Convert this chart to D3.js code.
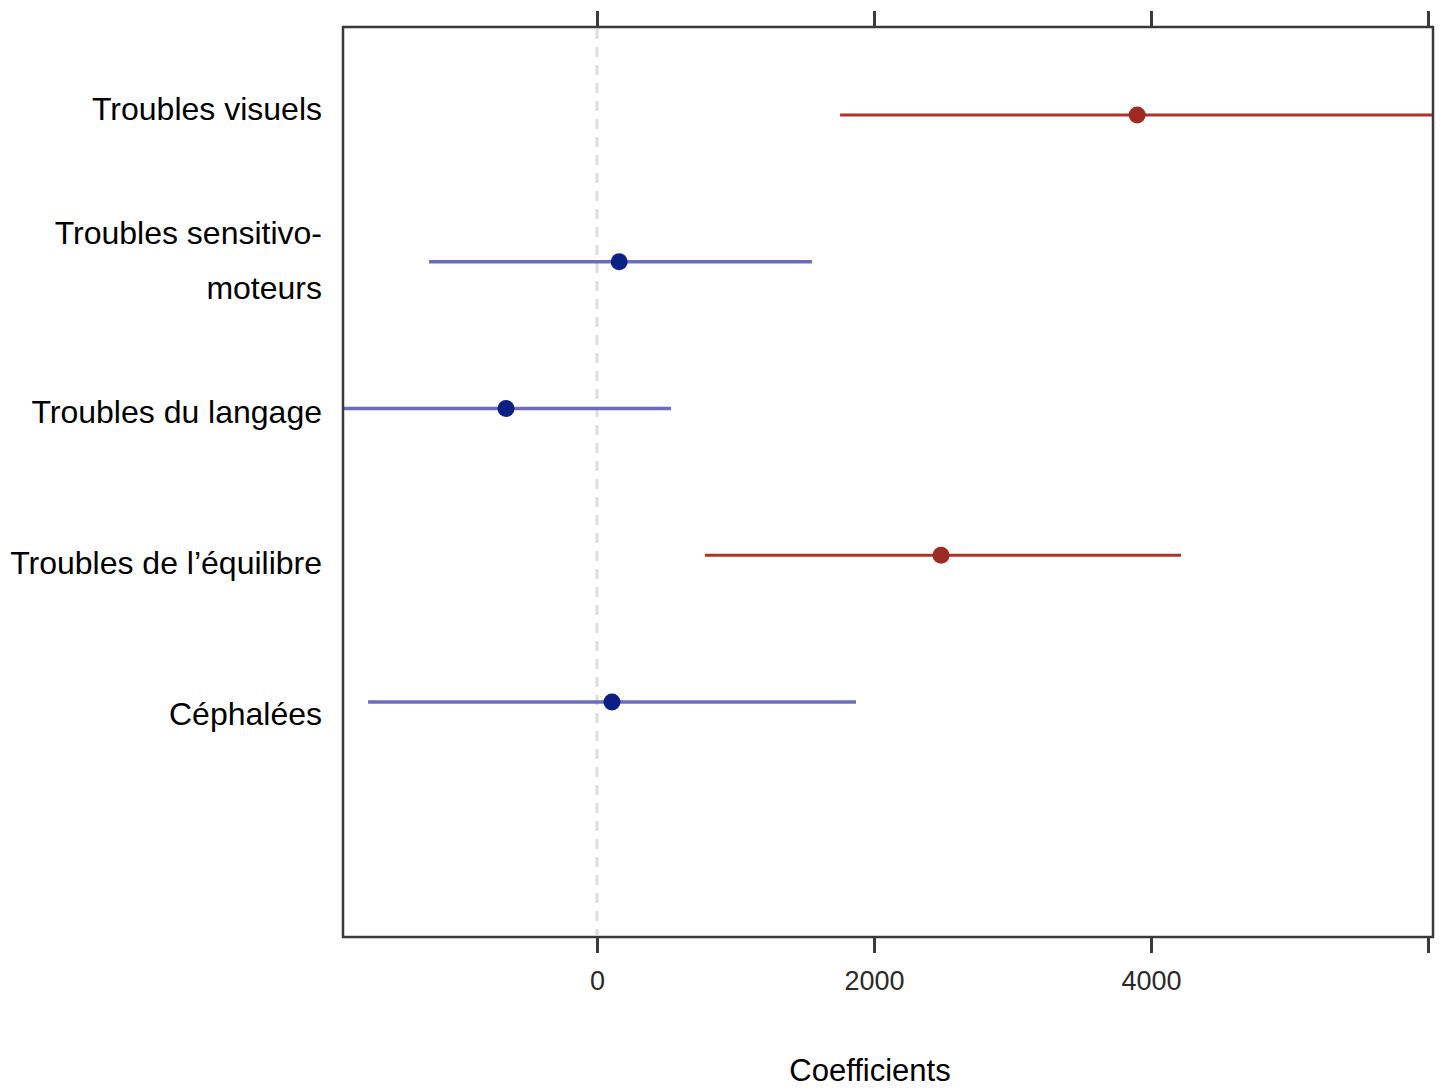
<!DOCTYPE html>
<html>
<head>
<meta charset="utf-8">
<script src="https://cdn.jsdelivr.net/npm/d3@7"></script>
<style>
  html, body { margin: 0; padding: 0; background: #fff; }
  svg { display: block; }
  text { font-family: "Liberation Sans", Arial, Helvetica, sans-serif; }
</style>
</head>
<body>
<svg id="chart" width="1442" height="1088"></svg>
<script>
// Symptoms, in plotting order from top to bottom
const categories = [
  "Troubles visuels",
  "Troubles sensitivo-moteurs",
  "Troubles du langage",
  "Troubles de l\u2019\u00e9quilibre",
  "C\u00e9phal\u00e9es"
];
// Label lines (wrapped names)
const labelLines = [
  ["Troubles visuels"],
  ["Troubles sensitivo-", "moteurs"],
  ["Troubles du langage"],
  ["Troubles de l\u2019\u00e9quilibre"],
  ["C\u00e9phal\u00e9es"]
];
// Point estimates and confidence bounds
const estimates = [3900, 160, -657, 2484, 108];
const lowerCI   = [1755, -1213, -1950, 780, -1653];
const upperCI   = [6150, 1552, 534, 4217, 1870];
const significant = [true, false, false, true, false];
const tickValues = [0, 2000, 4000, 6000];
const labelledTicks = [0, 2000, 4000];
const axisTitle = "Coefficients";

const svg = d3.select("#chart");
const frame = { left: 343, right: 1433, top: 27, bottom: 937 };

const x = d3.scaleLinear().domain([-1834, 6036]).range([frame.left, frame.right]);
const y = d3.scaleLinear().domain([0, 4]).range([115, 702]);
const yLabel = d3.scaleLinear().domain([0, 4]).range([109, 714]);

const colors = {
  sig:    { line: "#b0302a", dot: "#9e2a22", width: 2.8 },
  nonsig: { line: "#6b6bc0", dot: "#0c1f84", width: 3.6 }
};

svg.append("defs").append("clipPath").attr("id", "plotClip")
  .append("rect")
  .attr("x", frame.left).attr("y", frame.top)
  .attr("width", frame.right - frame.left)
  .attr("height", frame.bottom - frame.top);

// zero reference line
svg.append("line")
  .attr("x1", x(0)).attr("x2", x(0))
  .attr("y1", frame.top + 2).attr("y2", frame.bottom - 2)
  .attr("stroke", "#dcdcdc").attr("stroke-width", 3)
  .attr("stroke-dasharray", "10,8");

// confidence intervals
const plot = svg.append("g").attr("clip-path", "url(#plotClip)");
plot.selectAll("line.ci").data(categories).join("line")
  .attr("class", "ci")
  .attr("x1", (d, i) => x(lowerCI[i]))
  .attr("x2", (d, i) => x(upperCI[i]))
  .attr("y1", (d, i) => y(i)).attr("y2", (d, i) => y(i))
  .attr("stroke", (d, i) => significant[i] ? colors.sig.line : colors.nonsig.line)
  .attr("stroke-width", (d, i) => significant[i] ? colors.sig.width : colors.nonsig.width);

plot.selectAll("circle.est").data(categories).join("circle")
  .attr("class", "est")
  .attr("cx", (d, i) => x(estimates[i]))
  .attr("cy", (d, i) => y(i))
  .attr("r", 8.5)
  .attr("fill", (d, i) => significant[i] ? colors.sig.dot : colors.nonsig.dot);

// frame
svg.append("rect")
  .attr("x", frame.left).attr("y", frame.top)
  .attr("width", frame.right - frame.left)
  .attr("height", frame.bottom - frame.top)
  .attr("fill", "none").attr("stroke", "#3a3a3a").attr("stroke-width", 2.5);

// bottom axis
const bottomAxis = d3.axisBottom(x).tickValues(tickValues)
  .tickFormat(d => labelledTicks.includes(d) ? d3.format("d")(d) : "")
  .tickSize(16).tickPadding(18);
const gb = svg.append("g").attr("transform", `translate(0,${frame.bottom})`).call(bottomAxis);
gb.select(".domain").remove();
gb.selectAll(".tick line").attr("stroke", "#3a3a3a").attr("stroke-width", 3);
gb.selectAll(".tick text")
  .attr("fill", "#2a2a2a").attr("font-size", 27)
  .style("font-family", "'Liberation Sans', Arial, sans-serif");

// top axis (ticks only)
const topAxis = d3.axisTop(x).tickValues(tickValues).tickFormat("").tickSize(16);
const gt = svg.append("g").attr("transform", `translate(0,${frame.top})`).call(topAxis);
gt.select(".domain").remove();
gt.selectAll(".tick line").attr("stroke", "#3a3a3a").attr("stroke-width", 3);

// category labels
const labels = svg.append("g");
labelLines.forEach((lines, i) => {
  const n = lines.length;
  lines.forEach((line, j) => {
    labels.append("text")
      .attr("x", 322)
      .attr("y", yLabel(i) + (j - (n - 1) / 2) * 55)
      .attr("dy", "0.35em")
      .attr("text-anchor", "end")
      .attr("font-size", 32)
      .attr("fill", "#000")
      .text(line);
  });
});

// axis title
svg.append("text")
  .attr("x", 870).attr("y", 1070)
  .attr("dy", "0.35em")
  .attr("text-anchor", "middle")
  .attr("font-size", 31)
  .attr("fill", "#000")
  .text(axisTitle);
</script>
</body>
</html>
